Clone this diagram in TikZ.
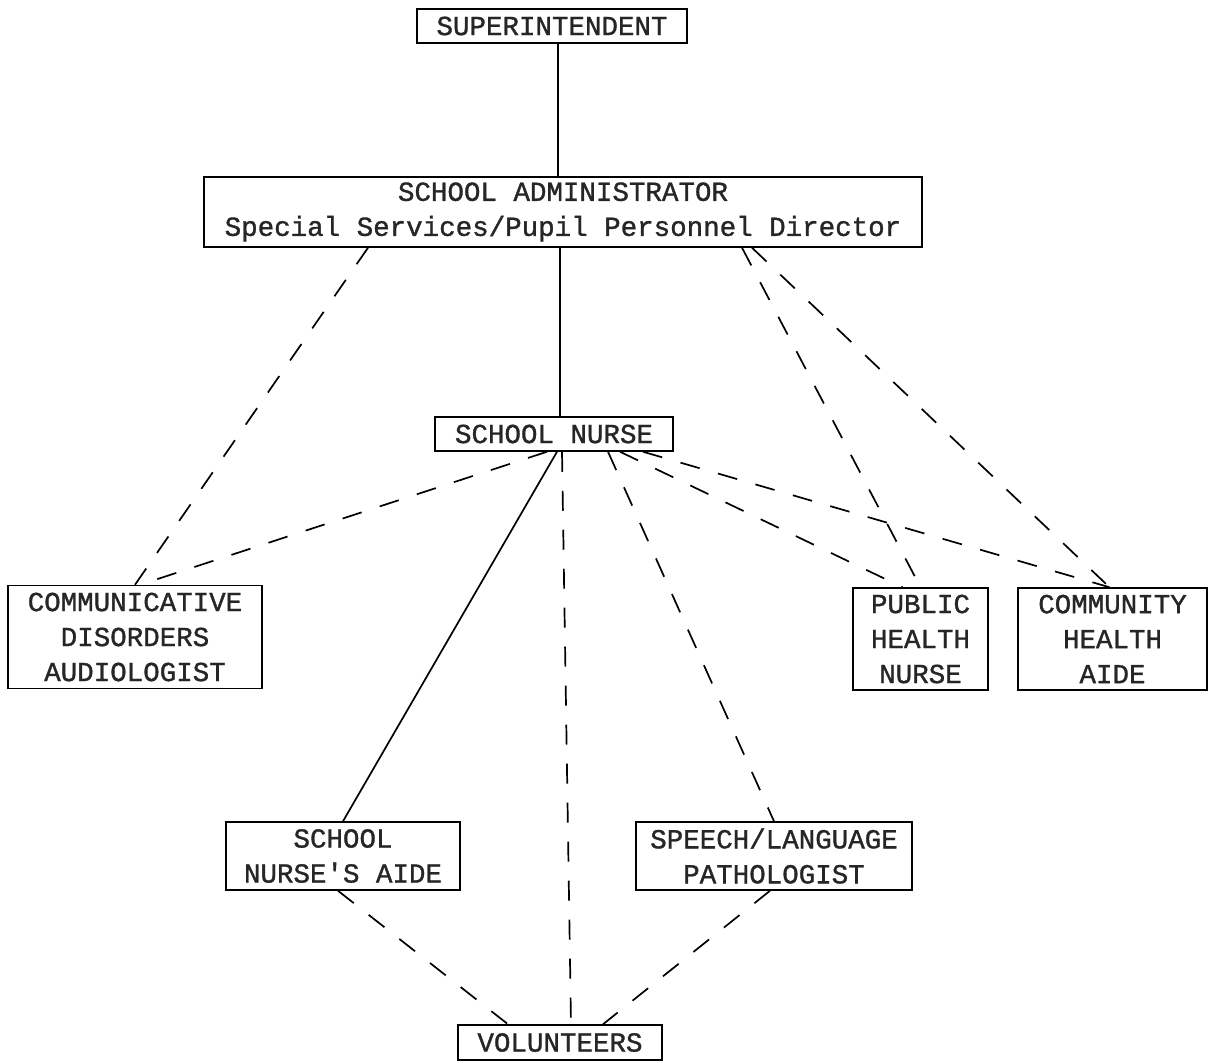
\documentclass[tikz,border=0pt]{standalone}
\usepackage{fontspec}
\newfontfamily\typewriter[FakeBold=1.2]{Liberation Mono}
\usetikzlibrary{calc}
\tikzset{
	box/.style={draw=black, line width=1.5pt, inner sep=0pt, align=center,
		text=black!85, font=\typewriter\fontsize{27.5}{35}\selectfont},
	dashline/.style={line width=1.7pt, dash pattern=on 20pt off 19pt},
	solidline/.style={line width=1.7pt}
}

\begin{document}
\begin{tikzpicture}[x=1pt, y=-1pt]
			%%%%% START %%%%%
			\useasboundingbox (0, 0) rectangle (1209, 1062);
			
			\node[box, minimum width=270pt, minimum height=34pt] (super) at (552, 26) {SUPERINTENDENT};
			\node[box, minimum width=718pt, minimum height=70pt] (admin) at (563, 212)
				{SCHOOL ADMINISTRATOR\\Special Services/Pupil Personnel Director};
			\node[box, minimum width=238pt, minimum height=34pt] (nurse) at (554, 434) {SCHOOL NURSE};
			
			\node[box, minimum width=254pt, minimum height=103pt] (comm) at (135, 637)
				{COMMUNICATIVE\\DISORDERS\\AUDIOLOGIST};
			\node[box, minimum width=135pt, minimum height=102pt] (phn) at (920.5, 639)
				{PUBLIC\\HEALTH\\NURSE};
			\node[box, minimum width=189pt, minimum height=102pt] (cha) at (1112.5, 639)
				{COMMUNITY\\HEALTH\\AIDE};
			
			\node[box, minimum width=234pt, minimum height=68pt] (aide) at (343, 856)
				{SCHOOL\\NURSE'S AIDE};
			\node[box, minimum width=276pt, minimum height=68pt] (speech) at (774, 856)
				{SPEECH/LANGUAGE\\PATHOLOGIST};
			\node[box, minimum width=204pt, minimum height=35pt] (vol) at (560, 1042.5) {VOLUNTEERS};
			
			% line of authority
			\draw[solidline] ([xshift=6pt]super.south) -- ([xshift=-5pt]admin.north);
			\draw[solidline] ([xshift=-3pt]admin.south) -- ([xshift=6pt]nurse.north);
			\draw[solidline] ([xshift=3pt]nurse.south) -- (aide.north);
			
			% cooperation
			\draw[dashline] ([xshift=-195pt]admin.south) -- (comm.north);
			\draw[dashline] ([xshift=179pt]admin.south) -- (phn.north);
			\draw[dashline] ([xshift=189pt]admin.south) -- ([xshift=-3pt]cha.north);
			
			\draw[dashline] ([xshift=-7pt]nurse.south) -- ([xshift=5pt]comm.north);
			\draw[dashline] ([xshift=8pt]nurse.south) -- ([xshift=11pt]vol.north);
			\draw[dashline] ([xshift=54pt]nurse.south) -- (speech.north);
			\draw[dashline] ([xshift=66pt]nurse.south) -- ([xshift=-18pt]phn.north);
			\draw[dashline] ([xshift=89pt]nurse.south) -- ([xshift=-3pt]cha.north);
			
			\draw[dashline] ([xshift=-5pt]aide.south) -- ([xshift=-52pt]vol.north);
			\draw[dashline] ([xshift=-4pt]speech.south) -- ([xshift=43pt]vol.north);
			%%%%% END %%%%%
\end{tikzpicture}
\end{document}
